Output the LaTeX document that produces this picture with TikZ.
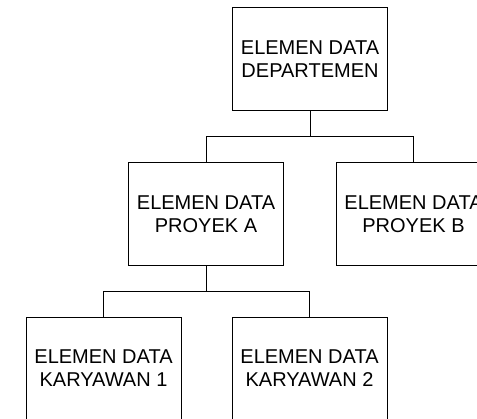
\documentclass[tikz,border=0pt]{standalone}
\usepackage{fontspec}
\setmainfont{Liberation Sans}
\begin{document}
\begin{tikzpicture}[x=1pt,y=-1pt,
  box/.style={draw, line width=0.8pt, minimum width=155pt, minimum height=103pt, inner sep=0pt, align=center, font=\fontsize{20}{23}\selectfont},
  conn/.style={draw, line width=0.8pt}]
\useasboundingbox (0,0) rectangle (477,419);
\clip (0,0) rectangle (477,419);
\node[box] (dep) at (310,59) {ELEMEN DATA\\DEPARTEMEN};
\node[box] (pa) at (206,214) {ELEMEN DATA\\PROYEK A};
\node[box] (pb) at (413.5,214) {ELEMEN DATA\\PROYEK B};
\node[box] (k1) at (103.5,368.5) {ELEMEN DATA\\KARYAWAN 1};
\node[box] (k2) at (309.5,368.5) {ELEMEN DATA\\KARYAWAN 2};
\draw[conn] (dep.south) -- ++(0,26) coordinate (j1);
\draw[conn] (pa.north) |- (j1) -| (pb.north);
\draw[conn] (pa.south) -- ++(0,26) coordinate (j2);
\draw[conn] (k1.north) |- (j2) -| (k2.north);
\end{tikzpicture}
\end{document}
